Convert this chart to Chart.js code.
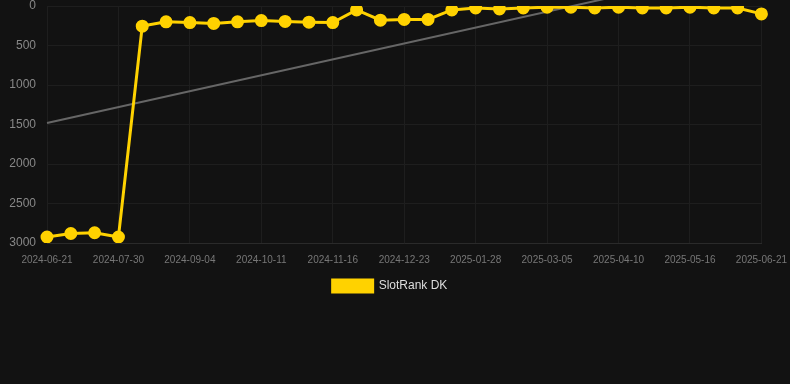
<!DOCTYPE html>
<html>
<head>
<meta charset="utf-8">
<script src="https://cdn.jsdelivr.net/npm/chart.js@4"></script>
<style>
  html, body { margin: 0; padding: 0; background: #121212; }
  #wrap { width: 790px; height: 302px; }
</style>
</head>
<body>
<div id="wrap"><canvas id="rankChart"></canvas></div>
<script>
'use strict';
const labels = [
  '2024-06-21','2024-07-04','2024-07-17','2024-07-30','2024-08-11','2024-08-23',
  '2024-09-04','2024-09-16','2024-09-28','2024-10-11','2024-10-23','2024-11-04',
  '2024-11-16','2024-11-28','2024-12-11','2024-12-23','2025-01-04','2025-01-16',
  '2025-01-28','2025-02-09','2025-02-21','2025-03-05','2025-03-17','2025-03-29',
  '2025-04-10','2025-04-22','2025-05-04','2025-05-16','2025-05-28','2025-06-09','2025-06-21'
];
const rankDK = [
  2924, 2880, 2870, 2924, 255, 200, 210, 220, 200, 185, 195, 205,
  210, 50, 180, 170, 170, 50, 25, 38, 25, 15, 15, 25,
  15, 25, 25, 15, 25, 25, 100
];
// tendance : seulement le premier et le dernier point, reliés
const trendDK = [1481, null, null, null, null, null, null, null, null, null, null, null,
  null, null, null, null, null, null, null, null, null, null, null, null,
  null, null, null, null, null, null, -532];
const yTicks = [0, 500, 1000, 1500, 2000, 2500, 3000];

const ctx = document.getElementById('rankChart').getContext('2d');
new Chart(ctx, {
  type: 'line',
  data: {
    labels: labels,
    datasets: [
      {
        label: 'SlotRank DK', data: rankDK, order: 1,
        borderColor: '#ffd200', backgroundColor: '#ffd200', borderWidth: 3,
        pointRadius: 5, pointHoverRadius: 6, tension: 0
      },
      {
        label: 'trend', data: trendDK, order: 2, spanGaps: true, clip: false,
        borderColor: '#666666', borderWidth: 2, pointRadius: 0, tension: 0
      }
    ]
  },
  options: {
    responsive: true, maintainAspectRatio: false, animation: false,
    layout: { autoPadding: false, padding: { top: 0, right: 0, left: -10, bottom: 0 } },
    plugins: {
      legend: {
        position: 'bottom',
        labels: { color: '#dddddd', padding: 11, font: { family: 'Arial, Liberation Sans', size: 12 },
          filter: item => item.text !== 'trend' }
      },
      tooltip: { enabled: false }
    },
    scales: {
      x: {
        grid: { color: '#1e1e1e', tickColor: 'rgba(0,0,0,0)', tickLength: 8 },
        border: { color: '#2a2a2a' },
        ticks: { color: '#777777', font: { family: 'Arial, Liberation Sans', size: 10 },
          maxRotation: 0, autoSkip: false, padding: 3,
          callback: function(v, i) { return i % 3 === 0 ? labels[i] : null; } }
      },
      y: {
        reverse: true, min: 0, max: 3000,
        grid: { color: '#1e1e1e', tickColor: 'rgba(0,0,0,0)', tickLength: 11 },
        border: { display: false },
        afterFit: axis => { axis.width = 57; },
        afterBuildTicks: axis => { axis.ticks = yTicks.map(v => ({ value: v })); },
        ticks: { color: '#888888', font: { family: 'Arial, Liberation Sans', size: 12, lineHeight: 1 },
          padding: 0, callback: v => String(v) }
      }
    }
  }
});
</script>
</body>
</html>
